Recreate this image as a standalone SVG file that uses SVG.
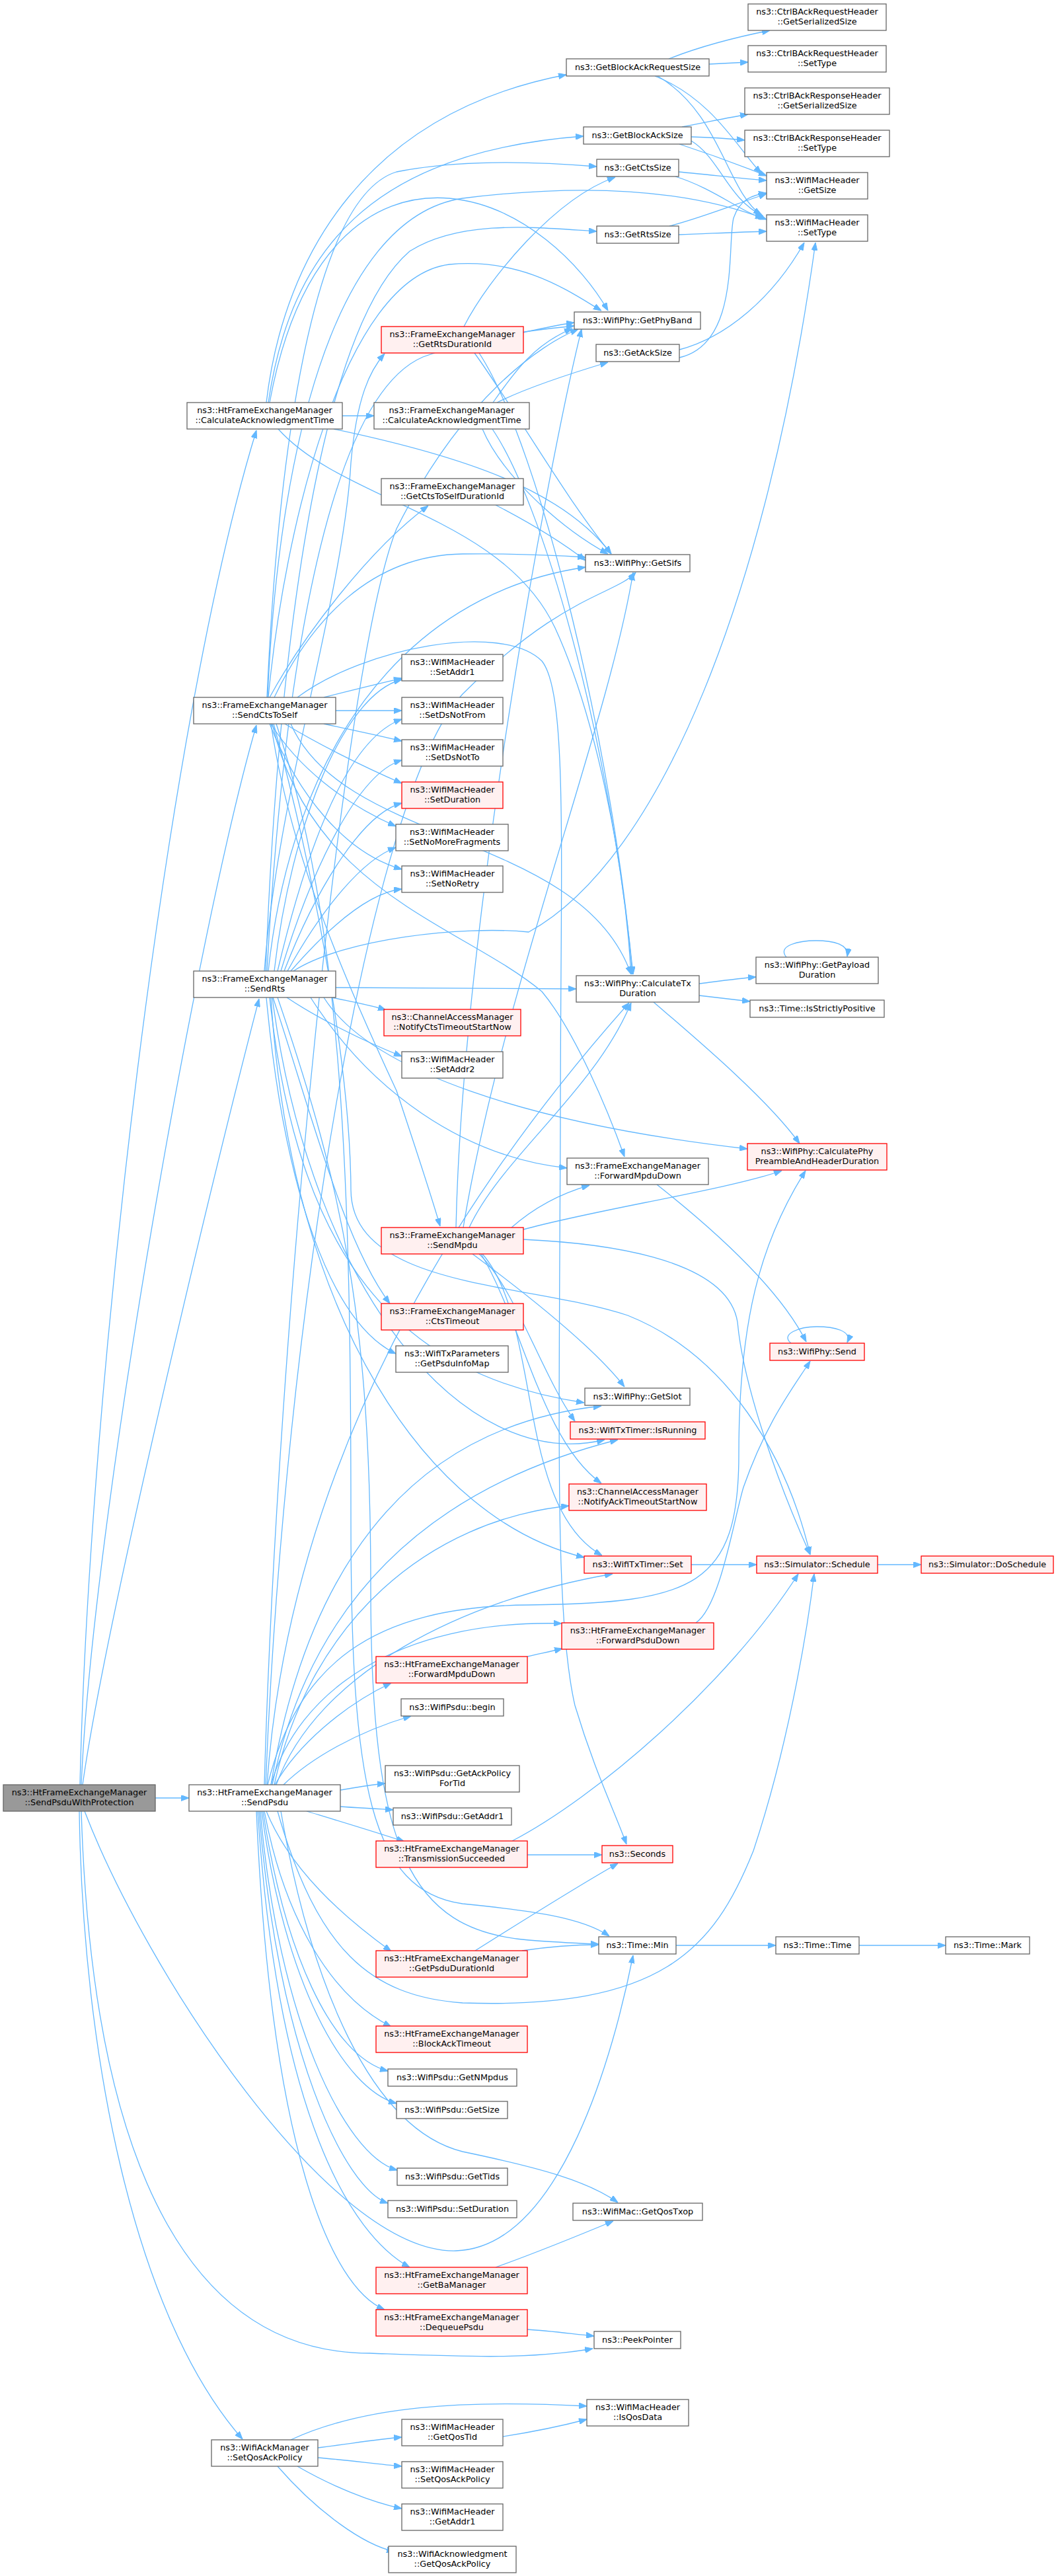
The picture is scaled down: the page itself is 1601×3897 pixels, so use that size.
<svg xmlns="http://www.w3.org/2000/svg" width="1601" height="3897" viewBox="0 0 1601 3897">
<style>
.n rect{fill:#ffffff;stroke:#666666;stroke-width:1.3}
.n.r rect{fill:#fff0f0;stroke:#ff0000}
.n.root rect{fill:#999999;stroke:#666666}
text{font-family:"DejaVu Sans","Liberation Sans",sans-serif;font-size:12.8px;text-anchor:middle;fill:#000000}
#edges path{fill:none;stroke:#63b8ff;stroke-width:1.3}
</style>
<defs>
<marker id="a" viewBox="0 0 12 9" refX="12" refY="4.5" markerWidth="12" markerHeight="9" orient="auto" markerUnits="userSpaceOnUse">
<path d="M0,0 L12,4.5 L0,9 z" fill="#63b8ff" stroke="#63b8ff" stroke-width="1"/>
</marker>
</defs>
<rect x="0" y="0" width="1601" height="3897" fill="#ffffff"/>
<g id="edges" marker-end="url(#a)">
<path d="M235,2720 L286,2720"/>
<path d="M121,2700 C135,2100 250,1100 388,651"/>
<path d="M123,2700 C140,2300 300,1400 388,1097"/>
<path d="M125,2700 C160,2450 330,1750 392,1511"/>
<path d="M120,2740 C125,3100 200,3500 367,3690"/>
<path d="M123,2740 C140,3300 300,3560 560,3560 C700,3565 800,3570 897,3553"/>
<path d="M128,2740 C220,2980 500,3410 690,3405 C850,3400 930,3100 958,2958"/>
<path d="M518,629 L566,629"/>
<path d="M403,609 C430,380 560,170 857,113"/>
<path d="M406,609 C440,380 560,230 883,206"/>
<path d="M408,609 C450,380 560,290 680,300 C790,310 880,400 920,470"/>
<path d="M505,649 C700,690 850,740 925,838"/>
<path d="M421,649 C520,760 760,780 840,950 C900,1080 945,1300 955,1474"/>
<path d="M746,609 C780,560 810,520 866,497"/>
<path d="M752,609 C800,585 880,560 920,548"/>
<path d="M730,649 C760,720 850,800 920,838"/>
<path d="M745,649 C820,760 920,1100 958,1474"/>
<path d="M702,494 C740,420 840,300 931,268"/>
<path d="M792,503 C820,497 840,492 869,488"/>
<path d="M718,534 C780,620 860,760 925,838"/>
<path d="M725,534 C820,680 930,1150 957,1474"/>
<path d="M750,764 C800,790 850,820 886,848"/>
<path d="M490,1055 C540,1042 570,1035 608,1026"/>
<path d="M508,1075 L608,1075"/>
<path d="M490,1095 C540,1106 570,1112 608,1121"/>
<path d="M431,1095 C480,1125 550,1160 608,1185"/>
<path d="M410,1095 C450,1160 520,1215 599,1250"/>
<path d="M408,1095 C450,1200 520,1290 608,1315"/>
<path d="M408,1055 C460,960 560,830 648,765"/>
<path d="M405,1055 C420,700 500,330 700,300 C900,275 1050,290 1160,332"/>
<path d="M404,1055 C420,700 470,300 600,260 C700,240 820,245 903,252"/>
<path d="M406,1055 C430,800 520,420 680,400 C790,390 860,440 910,470"/>
<path d="M415,1055 C470,940 560,840 700,838 C780,837 840,840 886,843"/>
<path d="M440,1095 C520,1280 880,1260 955,1474"/>
<path d="M412,1095 C470,1350 700,1400 820,1500 C870,1560 920,1680 945,1750"/>
<path d="M410,1095 C440,1300 530,1500 600,1650 C630,1740 650,1800 666,1855"/>
<path d="M414,1095 C470,1300 530,1600 531,1800 C532,1950 800,1940 950,1990 C1100,2050 1190,2200 1226,2352"/>
<path d="M450,1055 C550,980 760,940 820,1000 C860,1050 848,1300 848,1700 C846,2200 840,2450 870,2580 C900,2680 930,2740 948,2790"/>
<path d="M418,1095 C520,1400 531,1800 531,2300 C531,2700 560,2860 700,2880 C800,2890 880,2900 922,2929"/>
<path d="M508,1494 L872,1496"/>
<path d="M444,1469 C520,1420 700,1400 800,1410 C1000,1300 1160,900 1234,367"/>
<path d="M420,1469 C460,1300 520,1120 608,1088"/>
<path d="M415,1469 C440,1250 520,1050 608,1028"/>
<path d="M425,1469 C470,1320 540,1170 608,1150"/>
<path d="M430,1469 C480,1340 550,1230 608,1215"/>
<path d="M435,1469 C490,1370 550,1300 599,1282"/>
<path d="M440,1469 C500,1400 560,1350 608,1345"/>
<path d="M434,1509 C480,1540 550,1575 608,1598"/>
<path d="M502,1509 C530,1515 560,1520 584,1528"/>
<path d="M413,1509 C470,1680 520,1880 590,1972"/>
<path d="M403,1509 C430,1800 500,2000 599,2048"/>
<path d="M400,1469 C420,1200 520,900 531,700 C540,600 560,560 582,535"/>
<path d="M402,1469 C420,1000 480,500 620,380 C700,330 820,345 903,350"/>
<path d="M404,1469 C430,1000 500,600 640,540 C720,510 800,500 869,493"/>
<path d="M406,1469 C440,1150 600,900 886,858"/>
<path d="M408,1509 C450,1900 600,2080 884,2122"/>
<path d="M490,1509 C560,1620 800,1700 1131,1738"/>
<path d="M412,1509 C470,1950 700,2230 915,2178"/>
<path d="M410,1509 C440,2000 650,2300 884,2356"/>
<path d="M470,1509 C560,1650 700,1750 858,1767"/>
<path d="M420,1509 C520,1800 561,2000 561,2400 C561,2800 620,2920 800,2935 C840,2938 870,2940 906,2941"/>
<path d="M774,1857 C810,1825 850,1805 892,1793"/>
<path d="M710,1857 C760,1750 900,1650 955,1517"/>
<path d="M701,1857 C760,1500 920,1100 958,866"/>
<path d="M690,1857 C700,1400 830,700 880,498"/>
<path d="M792,1860 C900,1830 1100,1800 1183,1771"/>
<path d="M715,1897 C800,1960 900,2040 945,2098"/>
<path d="M725,1897 C780,1950 820,2080 870,2150"/>
<path d="M728,1897 C790,2000 820,2180 910,2244"/>
<path d="M730,1897 C820,2000 780,2280 911,2353"/>
<path d="M792,1875 C900,1880 1100,1900 1116,2000 C1125,2100 1180,2250 1226,2352"/>
<path d="M515,2708 C540,2704 560,2700 583,2698"/>
<path d="M515,2733 C540,2735 570,2736 595,2738"/>
<path d="M464,2740 C520,2757 570,2772 612,2786"/>
<path d="M429,2700 C470,2660 540,2620 622,2596"/>
<path d="M416,2700 C450,2640 520,2580 592,2546"/>
<path d="M410,2700 C450,2560 600,2450 850,2456"/>
<path d="M405,2700 C450,2520 560,2430 800,2428 C1050,2425 1118,2400 1118,2200 C1118,2000 1150,1880 1219,1771"/>
<path d="M420,2740 C480,2950 560,3020 700,3030 C1000,3040 1080,2950 1140,2800 C1190,2650 1220,2480 1232,2381"/>
<path d="M400,2700 C420,2000 520,1000 600,800 C700,600 820,520 875,498"/>
<path d="M402,2700 C430,2000 560,1200 700,1050 C850,900 930,900 962,866"/>
<path d="M404,2700 C440,2200 700,1800 952,1517"/>
<path d="M410,2700 C460,2400 600,2160 910,2127"/>
<path d="M412,2700 C470,2420 650,2250 935,2178"/>
<path d="M415,2700 C470,2450 650,2300 861,2278"/>
<path d="M418,2700 C480,2530 700,2420 927,2381"/>
<path d="M403,2740 C440,2830 520,2900 592,2952"/>
<path d="M400,2740 C430,2900 500,3020 592,3066"/>
<path d="M398,2740 C430,2950 500,3110 587,3133"/>
<path d="M396,2740 C430,3000 520,3160 600,3182"/>
<path d="M394,2740 C420,3050 520,3260 601,3283"/>
<path d="M392,2740 C420,3100 520,3310 587,3333"/>
<path d="M390,2740 C420,3200 530,3380 620,3430"/>
<path d="M388,2740 C410,3250 500,3460 582,3494"/>
<path d="M425,2740 C470,3000 560,3220 700,3255 C820,3280 890,3300 935,3332"/>
<path d="M481,3703 C530,3697 570,3690 608,3687"/>
<path d="M481,3718 C530,3722 570,3728 608,3731"/>
<path d="M450,3731 C500,3760 560,3785 608,3795"/>
<path d="M420,3731 C480,3800 550,3850 597,3860"/>
<path d="M440,3691 C550,3640 700,3630 888,3640"/>
<path d="M761,3686 C800,3680 850,3670 888,3660"/>
<path d="M798,2806 L911,2806"/>
<path d="M775,2785 C900,2720 1100,2550 1208,2381"/>
<path d="M719,2951 C800,2900 880,2850 935,2819"/>
<path d="M790,2951 C830,2945 870,2942 906,2942"/>
<path d="M750,3430 C800,3412 880,3380 928,3360"/>
<path d="M798,3524 C830,3526 860,3530 899,3534"/>
<path d="M798,2506 C815,2502 835,2498 851,2494"/>
<path d="M1046,2367 L1145,2367"/>
<path d="M1328,2367 L1394,2367"/>
<path d="M1023,2943 L1174,2943"/>
<path d="M1300,2943 L1431,2943"/>
<path d="M1058,1488 C1090,1484 1120,1480 1144,1478"/>
<path d="M1058,1506 L1135,1515"/>
<path d="M989,1516 C1040,1560 1160,1660 1210,1730"/>
<path d="M1190,1448 C1175,1430 1210,1423 1235,1423 C1260,1423 1285,1428 1282,1447"/>
<path d="M1197,2032 C1180,2018 1210,2007 1236,2007 C1262,2007 1290,2013 1282,2031"/>
<path d="M994,1792 C1080,1860 1180,1950 1220,2030"/>
<path d="M1053,2455 C1090,2430 1110,2300 1125,2250 C1160,2150 1200,2100 1226,2059"/>
<path d="M1012,89 C1060,70 1120,55 1165,46"/>
<path d="M1073,97 C1095,96 1115,95 1132,94"/>
<path d="M991,115 C1080,150 1120,230 1152,262"/>
<path d="M995,115 C1090,170 1100,290 1152,325"/>
<path d="M1032,192 C1070,185 1100,178 1132,173"/>
<path d="M1046,207 C1080,208 1105,210 1127,212"/>
<path d="M1028,218 C1080,235 1120,250 1160,266"/>
<path d="M1046,213 C1090,240 1100,300 1155,327"/>
<path d="M1027,260 C1080,265 1120,270 1160,273"/>
<path d="M1022,267 C1080,285 1120,320 1155,330"/>
<path d="M1013,342 C1060,330 1110,310 1160,293"/>
<path d="M1027,355 C1080,353 1120,351 1160,350"/>
<path d="M1028,541 C1120,520 1100,370 1110,330 C1120,300 1140,295 1160,292"/>
<path d="M1028,529 C1100,510 1170,450 1217,367"/>
</g>
<g id="node-root" class="n root"><rect x="5" y="2700" width="230" height="40"/><text x="120" y="2716">ns3::HtFrameExchangeManager</text><text x="120" y="2731">::SendPsduWithProtection</text></g>
<g id="node-htcalcack" class="n"><rect x="283" y="609" width="235" height="40"/><text x="400.5" y="625">ns3::HtFrameExchangeManager</text><text x="400.5" y="640">::CalculateAcknowledgmentTime</text></g>
<g id="node-sendctstoself" class="n"><rect x="293" y="1055" width="215" height="40"/><text x="400.5" y="1071">ns3::FrameExchangeManager</text><text x="400.5" y="1086">::SendCtsToSelf</text></g>
<g id="node-sendrts" class="n"><rect x="293" y="1469" width="215" height="40"/><text x="400.5" y="1485">ns3::FrameExchangeManager</text><text x="400.5" y="1500">::SendRts</text></g>
<g id="node-sendpsdu" class="n"><rect x="286" y="2700" width="229" height="40"/><text x="400.5" y="2716">ns3::HtFrameExchangeManager</text><text x="400.5" y="2731">::SendPsdu</text></g>
<g id="node-ackmgr-setqos" class="n"><rect x="320" y="3691" width="161" height="40"/><text x="400.5" y="3707">ns3::WifiAckManager</text><text x="400.5" y="3722">::SetQosAckPolicy</text></g>
<g id="node-femcalcack" class="n"><rect x="566" y="609" width="235" height="40"/><text x="683.5" y="625">ns3::FrameExchangeManager</text><text x="683.5" y="640">::CalculateAcknowledgmentTime</text></g>
<g id="node-getrtsdurid" class="n r"><rect x="577" y="494" width="215" height="40"/><text x="684.5" y="510">ns3::FrameExchangeManager</text><text x="684.5" y="525">::GetRtsDurationId</text></g>
<g id="node-getctstoselfdurid" class="n"><rect x="577" y="724" width="215" height="40"/><text x="684.5" y="740">ns3::FrameExchangeManager</text><text x="684.5" y="755">::GetCtsToSelfDurationId</text></g>
<g id="node-setaddr1" class="n"><rect x="608" y="990" width="153" height="40"/><text x="684.5" y="1006">ns3::WifiMacHeader</text><text x="684.5" y="1021">::SetAddr1</text></g>
<g id="node-setdsnotfrom" class="n"><rect x="608" y="1055" width="153" height="40"/><text x="684.5" y="1071">ns3::WifiMacHeader</text><text x="684.5" y="1086">::SetDsNotFrom</text></g>
<g id="node-setdsnotto" class="n"><rect x="608" y="1119" width="153" height="40"/><text x="684.5" y="1135">ns3::WifiMacHeader</text><text x="684.5" y="1150">::SetDsNotTo</text></g>
<g id="node-setduration" class="n r"><rect x="608" y="1183" width="153" height="40"/><text x="684.5" y="1199">ns3::WifiMacHeader</text><text x="684.5" y="1214">::SetDuration</text></g>
<g id="node-setnomorefrag" class="n"><rect x="599" y="1247" width="170" height="40"/><text x="684" y="1263">ns3::WifiMacHeader</text><text x="684" y="1278">::SetNoMoreFragments</text></g>
<g id="node-setnoretry" class="n"><rect x="608" y="1310" width="153" height="40"/><text x="684.5" y="1326">ns3::WifiMacHeader</text><text x="684.5" y="1341">::SetNoRetry</text></g>
<g id="node-notifyctstimeout" class="n r"><rect x="581" y="1527" width="207" height="40"/><text x="684.5" y="1543">ns3::ChannelAccessManager</text><text x="684.5" y="1558">::NotifyCtsTimeoutStartNow</text></g>
<g id="node-setaddr2" class="n"><rect x="608" y="1591" width="153" height="40"/><text x="684.5" y="1607">ns3::WifiMacHeader</text><text x="684.5" y="1622">::SetAddr2</text></g>
<g id="node-sendmpdu" class="n r"><rect x="577" y="1857" width="215" height="40"/><text x="684.5" y="1873">ns3::FrameExchangeManager</text><text x="684.5" y="1888">::SendMpdu</text></g>
<g id="node-ctstimeout" class="n r"><rect x="577" y="1972" width="215" height="40"/><text x="684.5" y="1988">ns3::FrameExchangeManager</text><text x="684.5" y="2003">::CtsTimeout</text></g>
<g id="node-getpsduinfomap" class="n"><rect x="599" y="2036" width="170" height="40"/><text x="684" y="2052">ns3::WifiTxParameters</text><text x="684" y="2067">::GetPsduInfoMap</text></g>
<g id="node-htforwardmpdu" class="n r"><rect x="569" y="2506" width="229" height="40"/><text x="683.5" y="2522">ns3::HtFrameExchangeManager</text><text x="683.5" y="2537">::ForwardMpduDown</text></g>
<g id="node-psdubegin" class="n"><rect x="607" y="2570" width="155" height="26"/><text x="684.5" y="2587">ns3::WifiPsdu::begin</text></g>
<g id="node-getackpolicyfortid" class="n"><rect x="583" y="2671" width="203" height="40"/><text x="684.5" y="2687">ns3::WifiPsdu::GetAckPolicy</text><text x="684.5" y="2702">ForTid</text></g>
<g id="node-psdugetaddr1" class="n"><rect x="595" y="2735" width="179" height="26"/><text x="684.5" y="2752">ns3::WifiPsdu::GetAddr1</text></g>
<g id="node-txsucceeded" class="n r"><rect x="569" y="2785" width="229" height="40"/><text x="683.5" y="2801">ns3::HtFrameExchangeManager</text><text x="683.5" y="2816">::TransmissionSucceeded</text></g>
<g id="node-getpsdudurid" class="n r"><rect x="569" y="2951" width="229" height="40"/><text x="683.5" y="2967">ns3::HtFrameExchangeManager</text><text x="683.5" y="2982">::GetPsduDurationId</text></g>
<g id="node-blockacktimeout" class="n r"><rect x="569" y="3065" width="229" height="40"/><text x="683.5" y="3081">ns3::HtFrameExchangeManager</text><text x="683.5" y="3096">::BlockAckTimeout</text></g>
<g id="node-getnmpdus" class="n"><rect x="587" y="3130" width="195" height="26"/><text x="684.5" y="3147">ns3::WifiPsdu::GetNMpdus</text></g>
<g id="node-psdugetsize" class="n"><rect x="600" y="3179" width="168" height="26"/><text x="684" y="3196">ns3::WifiPsdu::GetSize</text></g>
<g id="node-gettids" class="n"><rect x="601" y="3280" width="167" height="26"/><text x="684.5" y="3297">ns3::WifiPsdu::GetTids</text></g>
<g id="node-psdusetduration" class="n"><rect x="587" y="3329" width="195" height="26"/><text x="684.5" y="3346">ns3::WifiPsdu::SetDuration</text></g>
<g id="node-getbamanager" class="n r"><rect x="569" y="3430" width="229" height="40"/><text x="683.5" y="3446">ns3::HtFrameExchangeManager</text><text x="683.5" y="3461">::GetBaManager</text></g>
<g id="node-dequeuepsdu" class="n r"><rect x="569" y="3494" width="229" height="40"/><text x="683.5" y="3510">ns3::HtFrameExchangeManager</text><text x="683.5" y="3525">::DequeuePsdu</text></g>
<g id="node-getqostid" class="n"><rect x="608" y="3660" width="153" height="40"/><text x="684.5" y="3676">ns3::WifiMacHeader</text><text x="684.5" y="3691">::GetQosTid</text></g>
<g id="node-hdrsetqosackpolicy" class="n"><rect x="608" y="3724" width="153" height="40"/><text x="684.5" y="3740">ns3::WifiMacHeader</text><text x="684.5" y="3755">::SetQosAckPolicy</text></g>
<g id="node-hdrgetaddr1" class="n"><rect x="608" y="3788" width="153" height="40"/><text x="684.5" y="3804">ns3::WifiMacHeader</text><text x="684.5" y="3819">::GetAddr1</text></g>
<g id="node-ackgetqosackpolicy" class="n"><rect x="588" y="3852" width="193" height="40"/><text x="684.5" y="3868">ns3::WifiAcknowledgment</text><text x="684.5" y="3883">::GetQosAckPolicy</text></g>
<g id="node-getbarsize" class="n"><rect x="857" y="89" width="216" height="26"/><text x="965" y="106">ns3::GetBlockAckRequestSize</text></g>
<g id="node-getbasize" class="n"><rect x="883" y="192" width="163" height="26"/><text x="964.5" y="209">ns3::GetBlockAckSize</text></g>
<g id="node-getctssize" class="n"><rect x="903" y="241" width="124" height="26"/><text x="965" y="258">ns3::GetCtsSize</text></g>
<g id="node-getrtssize" class="n"><rect x="903" y="342" width="124" height="26"/><text x="965" y="359">ns3::GetRtsSize</text></g>
<g id="node-getphyband" class="n"><rect x="869" y="472" width="191" height="26"/><text x="964.5" y="489">ns3::WifiPhy::GetPhyBand</text></g>
<g id="node-getacksize" class="n"><rect x="902" y="521" width="126" height="26"/><text x="965" y="538">ns3::GetAckSize</text></g>
<g id="node-getsifs" class="n"><rect x="886" y="839" width="158" height="26"/><text x="965" y="856">ns3::WifiPhy::GetSifs</text></g>
<g id="node-calctxduration" class="n"><rect x="872" y="1476" width="186" height="40"/><text x="965" y="1492">ns3::WifiPhy::CalculateTx</text><text x="965" y="1507">Duration</text></g>
<g id="node-femforwardmpdu" class="n"><rect x="858" y="1752" width="214" height="40"/><text x="965" y="1768">ns3::FrameExchangeManager</text><text x="965" y="1783">::ForwardMpduDown</text></g>
<g id="node-getslot" class="n"><rect x="885" y="2100" width="159" height="26"/><text x="964.5" y="2117">ns3::WifiPhy::GetSlot</text></g>
<g id="node-isrunning" class="n r"><rect x="863" y="2151" width="204" height="26"/><text x="965" y="2168">ns3::WifiTxTimer::IsRunning</text></g>
<g id="node-notifyacktimeout" class="n r"><rect x="861" y="2245" width="208" height="40"/><text x="965" y="2261">ns3::ChannelAccessManager</text><text x="965" y="2276">::NotifyAckTimeoutStartNow</text></g>
<g id="node-txtimerset" class="n r"><rect x="884" y="2354" width="162" height="26"/><text x="965" y="2371">ns3::WifiTxTimer::Set</text></g>
<g id="node-forwardpsdu" class="n r"><rect x="850" y="2455" width="230" height="40"/><text x="965" y="2471">ns3::HtFrameExchangeManager</text><text x="965" y="2486">::ForwardPsduDown</text></g>
<g id="node-seconds" class="n r"><rect x="911" y="2792" width="107" height="26"/><text x="964.5" y="2809">ns3::Seconds</text></g>
<g id="node-timemin" class="n"><rect x="906" y="2930" width="117" height="26"/><text x="964.5" y="2947">ns3::Time::Min</text></g>
<g id="node-getqostxop" class="n"><rect x="867" y="3333" width="196" height="26"/><text x="965" y="3350">ns3::WifiMac::GetQosTxop</text></g>
<g id="node-peekpointer" class="n"><rect x="899" y="3527" width="131" height="26"/><text x="964.5" y="3544">ns3::PeekPointer</text></g>
<g id="node-isqosdata" class="n"><rect x="888" y="3630" width="154" height="40"/><text x="965" y="3646">ns3::WifiMacHeader</text><text x="965" y="3661">::IsQosData</text></g>
<g id="node-barhdr-getsersize" class="n"><rect x="1132" y="6" width="209" height="40"/><text x="1236.5" y="22">ns3::CtrlBAckRequestHeader</text><text x="1236.5" y="37">::GetSerializedSize</text></g>
<g id="node-barhdr-settype" class="n"><rect x="1132" y="69" width="209" height="40"/><text x="1236.5" y="85">ns3::CtrlBAckRequestHeader</text><text x="1236.5" y="100">::SetType</text></g>
<g id="node-bahdr-getsersize" class="n"><rect x="1127" y="133" width="219" height="40"/><text x="1236.5" y="149">ns3::CtrlBAckResponseHeader</text><text x="1236.5" y="164">::GetSerializedSize</text></g>
<g id="node-bahdr-settype" class="n"><rect x="1127" y="197" width="219" height="40"/><text x="1236.5" y="213">ns3::CtrlBAckResponseHeader</text><text x="1236.5" y="228">::SetType</text></g>
<g id="node-hdrgetsize" class="n"><rect x="1160" y="261" width="153" height="40"/><text x="1236.5" y="277">ns3::WifiMacHeader</text><text x="1236.5" y="292">::GetSize</text></g>
<g id="node-hdrsettype" class="n"><rect x="1160" y="325" width="153" height="40"/><text x="1236.5" y="341">ns3::WifiMacHeader</text><text x="1236.5" y="356">::SetType</text></g>
<g id="node-getpayloadduration" class="n"><rect x="1144" y="1448" width="185" height="40"/><text x="1236.5" y="1464">ns3::WifiPhy::GetPayload</text><text x="1236.5" y="1479">Duration</text></g>
<g id="node-isstrictlypositive" class="n"><rect x="1135" y="1513" width="203" height="26"/><text x="1236.5" y="1530">ns3::Time::IsStrictlyPositive</text></g>
<g id="node-calcphypreamble" class="n r"><rect x="1131" y="1730" width="211" height="40"/><text x="1236.5" y="1746">ns3::WifiPhy::CalculatePhy</text><text x="1236.5" y="1761">PreambleAndHeaderDuration</text></g>
<g id="node-physend" class="n r"><rect x="1165" y="2032" width="143" height="26"/><text x="1236.5" y="2049">ns3::WifiPhy::Send</text></g>
<g id="node-schedule" class="n r"><rect x="1145" y="2354" width="183" height="26"/><text x="1236.5" y="2371">ns3::Simulator::Schedule</text></g>
<g id="node-timetime" class="n"><rect x="1174" y="2930" width="126" height="26"/><text x="1237" y="2947">ns3::Time::Time</text></g>
<g id="node-doschedule" class="n r"><rect x="1394" y="2354" width="200" height="26"/><text x="1494" y="2371">ns3::Simulator::DoSchedule</text></g>
<g id="node-timemark" class="n"><rect x="1431" y="2930" width="127" height="26"/><text x="1494.5" y="2947">ns3::Time::Mark</text></g>
</svg>
